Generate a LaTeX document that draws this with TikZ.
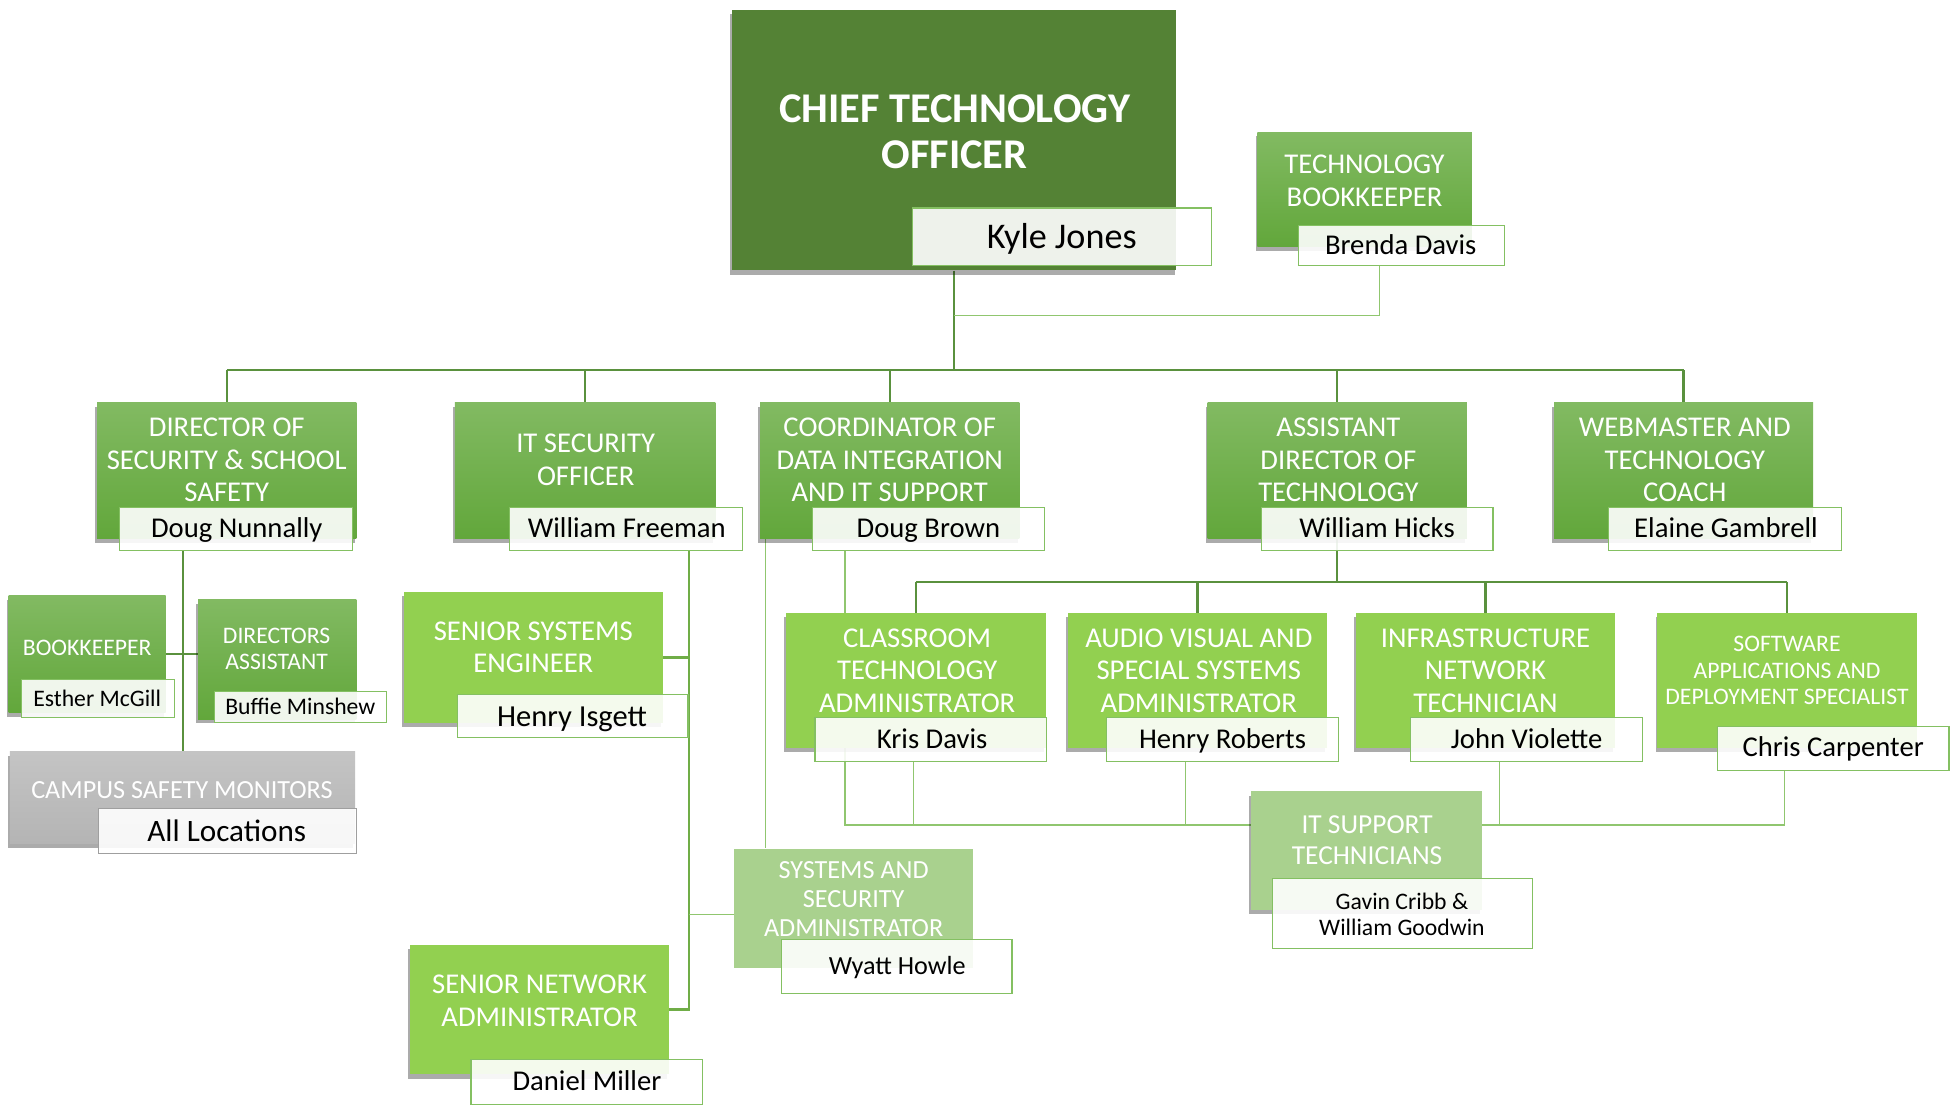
\documentclass[tikz,border=0pt]{standalone}
\usepackage{fontspec}
\setmainfont{Carlito}
\usetikzlibrary{shadows,fit}
\definecolor{dkg}{HTML}{548235}
\definecolor{gtop}{HTML}{82BA62}
\definecolor{gbot}{HTML}{62A73B}
\definecolor{brg}{HTML}{92D050}
\definecolor{plg}{HTML}{A9D18E}
\definecolor{nmline}{HTML}{84C062}
\definecolor{mainc}{HTML}{5A913E}
\definecolor{itc}{HTML}{70AD47}
\definecolor{thinc}{HTML}{90C66F}
\definecolor{gytop}{HTML}{C4C4C4}
\definecolor{gybot}{HTML}{B4B4B4}
\pgfdeclarelayer{bgl}
\pgfdeclarelayer{paper}
\pgfsetlayers{paper,bgl,main}
\tikzset{
  base/.style={rectangle, inner sep=0pt, draw=none},
  shd/.style={drop shadow={shadow xshift=-1.5pt, shadow yshift=-3.5pt, opacity=0.33, fill=black}},
  midg/.style={base, shd, top color=gtop, bottom color=gbot},
  darkbox/.style={base, shd, fill=dkg},
  brtbox/.style={base, shd, fill=brg},
  palebox/.style={base, fill=plg},
  palesh/.style={base, shd, fill=plg},
  greybox/.style={base, shd, top color=gytop, bottom color=gybot},
  nm/.style={base, draw=nmline, line width=1pt, fill=white, fill opacity=0.9},
  nmgrey/.style={nm, draw=gray!75},
  ttl/.style={text=white, align=center, inner sep=0pt, font=\fontsize{23}{26}\selectfont},
  ttls/.style={text=white, align=center, inner sep=0pt, font=\fontsize{19}{21}\selectfont},
  nmt/.style={text=black, inner sep=0pt, anchor=base, font=\fontsize{23}{26}\selectfont},
  nmts/.style={nmt, font=\fontsize{19}{21}\selectfont},
  mainln/.style={draw=mainc, line width=2pt},
  itln/.style={draw=itc, line width=2pt},
  thinln/.style={draw=thinc, line width=1pt},
}
\begin{document}
\begin{tikzpicture}[x=1pt,y=-1pt]
\useasboundingbox (0,0) rectangle (1568,886);
\begin{pgfonlayer}{paper}
\fill[white] (0,0) rectangle (1568,886);
\end{pgfonlayer}

% ---------- CTO ----------
\node[darkbox, fit={(587,8)(944,217)}] (cto) {};
\node[text=white, align=center, inner sep=0pt, font=\fontsize{34}{37}\selectfont\bfseries] (ctoT) at (766,105.5) {CHIEF TECHNOLOGY\\OFFICER};
\node[nm, fit={(732,167)(972,213)}] (kyle) {};
\node[nmt, font=\fontsize{29}{32}\selectfont] (kyleT) at (852,199.3) {Kyle Jones};

% ---------- Technology bookkeeper ----------
\node[midg, fit={(1009,106)(1181,198)}] (tbk) {};
\node[ttl] (tbkT) at (1095,145) {TECHNOLOGY\\BOOKKEEPER};
\node[nm, fit={(1042,181)(1207,213)}] (brenda) {};
\node[nmt] (brendaT) at (1124,204.4) {Brenda Davis};

% ---------- Level 2 ----------
\node[midg, fit={(78,323)(286,432)}] (dir) {};
\node[ttl] (dirT) at (182,369) {DIRECTOR OF\\SECURITY \& SCHOOL\\SAFETY};
\node[nm, fit={(96,407)(283,442)}] (nunnally) {};
\node[nmt] (nunnallyT) at (190,431.4) {Doug Nunnally};

\node[midg, fit={(365,323)(574,432)}] (itsec) {};
\node[ttl] (itsecT) at (470,369) {IT SECURITY\\OFFICER};
\node[nm, fit={(409,407)(596,442)}] (freeman) {};
\node[nmt] (freemanT) at (503,431.4) {William Freeman};

\node[midg, fit={(610,323)(818,432)}] (coord) {};
\node[ttl] (coordT) at (714,369) {COORDINATOR OF\\DATA INTEGRATION\\AND IT SUPPORT};
\node[nm, fit={(652,407)(838,442)}] (brown) {};
\node[nmt] (brownT) at (745,431.4) {Doug Brown};

\node[midg, fit={(969,323)(1177,432)}] (asst) {};
\node[ttl] (asstT) at (1074,369) {ASSISTANT\\DIRECTOR OF\\TECHNOLOGY};
\node[nm, fit={(1012,407)(1198,442)}] (hicks) {};
\node[nmt] (hicksT) at (1105,431.4) {William Hicks};

\node[midg, fit={(1247,323)(1455,432)}] (web) {};
\node[ttl] (webT) at (1352,369) {WEBMASTER AND\\TECHNOLOGY\\COACH};
\node[nm, fit={(1291,407)(1478,442)}] (gambrell) {};
\node[nmt] (gambrellT) at (1385,431.4) {Elaine Gambrell};

% ---------- Director branch ----------
\node[midg, fit={(7,478)(133,572)}] (bookk) {};
\node[ttls] (bookkT) at (70,520) {BOOKKEEPER};
\node[nm, fit={(17,545)(140,576)}] (mcgill) {};
\node[nmts] (mcgillT) at (78,567.1) {Esther McGill};

\node[midg, fit={(159,481)(286,577)}] (da) {};
\node[ttls] (daT) at (222,520.5) {DIRECTORS\\ASSISTANT};
\node[nm, fit={(172,555)(310,580)}] (buffie) {};
\node[nmts] (buffieT) at (241,573.1) {Buffie Minshew};

\node[greybox, fit={(8,603)(285,677)}] (campus) {};
\node[text=white, inner sep=0pt, font=\fontsize{21}{24}\selectfont] (campusT) at (146,634) {CAMPUS SAFETY MONITORS};
\node[nmgrey, fit={(79,649)(286,685)}] (alloc) {};
\node[nmt, font=\fontsize{25}{28}\selectfont] (allocT) at (182,675) {All Locations};

% ---------- IT security branch ----------
\node[brtbox, fit={(324,475)(532,580)}] (sse) {};
\node[ttl] (sseT) at (428,519.5) {SENIOR SYSTEMS\\ENGINEER};
\node[nm, fit={(367,557)(552,592)}] (isgett) {};
\node[nmt, font=\fontsize{24.5}{27}\selectfont] (isgettT) at (459,582.9) {Henry Isgett};

\node[brtbox, fit={(329,758)(537,862)}] (sna) {};
\node[ttl] (snaT) at (433,803) {SENIOR NETWORK\\ADMINISTRATOR};
\node[nm, fit={(378,850)(564,886)}] (miller) {};
\node[nmt] (millerT) at (471,875.4) {Daniel Miller};

\node[palebox, fit={(589,681)(781,777)}] (ssa) {};
\node[text=white, align=center, inner sep=0pt, font=\fontsize{21}{23.5}\selectfont] (ssaT) at (685,721.5) {SYSTEMS AND\\SECURITY\\ADMINISTRATOR};
\node[nm, fit={(627,754)(812,797)}] (howle) {};
\node[nmt, font=\fontsize{21}{24}\selectfont] (howleT) at (720,781.8) {Wyatt Howle};

% ---------- Level 3 ----------
\node[brtbox, fit={(631,492)(839,600)}] (class) {};
\node[ttl] (classT) at (736,538) {CLASSROOM\\TECHNOLOGY\\ADMINISTRATOR};
\node[nm, fit={(654,576)(840,611)}] (kris) {};
\node[nmt] (krisT) at (748,600.4) {Kris Davis};

\node[brtbox, fit={(857,492)(1065,600)}] (av) {};
\node[ttl] (avT) at (962,538) {AUDIO VISUAL AND\\SPECIAL SYSTEMS\\ADMINISTRATOR};
\node[nm, fit={(888,576)(1074,611)}] (roberts) {};
\node[nmt] (robertsT) at (981,600.4) {Henry Roberts};

\node[brtbox, fit={(1088,492)(1296,600)}] (infra) {};
\node[ttl] (infraT) at (1192,538) {INFRASTRUCTURE\\NETWORK\\TECHNICIAN};
\node[nm, fit={(1132,576)(1318,611)}] (violette) {};
\node[nmt] (violetteT) at (1225,600.4) {John Violette};

\node[brtbox, fit={(1330,492)(1538,600)}] (soft) {};
\node[ttls] (softT) at (1434,538) {SOFTWARE\\APPLICATIONS AND\\DEPLOYMENT SPECIALIST};
\node[nm, fit={(1378,583)(1564,618)}] (carpenter) {};
\node[nmt] (carpenterT) at (1471,607.4) {Chris Carpenter};

% ---------- IT support ----------
\node[palesh, fit={(1004,635)(1189,730)}] (its) {};
\node[text=white, align=center, inner sep=0pt, font=\fontsize{22}{25}\selectfont] (itsT) at (1097,674.5) {IT SUPPORT\\TECHNICIANS};
\node[nm, fit={(1021,705)(1230,761)}] (cribb) {};
\node[text=black, align=center, inner sep=0pt, font=\fontsize{19}{21}\selectfont] (cribbT) at (1125,733.5) {Gavin Cribb \&\\William Goodwin};

% ---------- connectors ----------
\begin{pgfonlayer}{bgl}
\coordinate (busY) at (0,297);
\draw[mainln] (cto.south) -- (cto.south |- busY);
\draw[mainln] (dir.north |- busY) -- (web.north |- busY);
\foreach \n in {dir,itsec,coord,asst,web} \draw[mainln] (\n.north |- busY) -- (\n.north);

\coordinate (bX) at (1107,253);
\draw[thinln] (brenda.south -| bX) -- (bX) -- (bX -| cto.south);

\coordinate (dX) at (147,0);
\draw[mainln] (nunnally.south -| dX) -- (campus.north -| dX);
\draw[mainln] (bookk.east) -- (bookk.east -| da.west);

\coordinate (iX) at (553,0);
\coordinate (ssaY) at (0,734);
\draw[itln] (freeman.south -| iX) -- (sna.east -| iX) -- (sna.east);
\draw[itln] (sse.east) -- (sse.east -| iX);
\draw[thinln] (ssa.west |- ssaY) -- (iX |- ssaY);

\coordinate (cX) at (614,0);
\draw[thinln] (coord.south -| cX) -- (ssa.north -| cX);

\coordinate (b2Y) at (0,467);
\draw[mainln] (asst.south) -- (asst.south |- b2Y);
\draw[mainln] (class.north |- b2Y) -- (soft.north |- b2Y);
\foreach \n in {class,av,infra,soft} \draw[mainln] (\n.north |- b2Y) -- (\n.north);

\coordinate (tY) at (0,662);
\coordinate (t1) at (678,0);
\coordinate (t2) at (733,0);
\coordinate (t3) at (951,0);
\coordinate (t4) at (1203,0);
\coordinate (t5) at (1432,0);
\draw[thinln] (brown.south -| t1) -- (t1 |- tY) -- (its.west |- tY);
\draw[thinln] (kris.south -| t2) -- (t2 |- tY);
\draw[thinln] (roberts.south -| t3) -- (t3 |- tY);
\draw[thinln] (violette.south -| t4) -- (t4 |- tY);
\draw[thinln] (carpenter.south -| t5) -- (t5 |- tY) -- (its.east |- tY);
\end{pgfonlayer}
\end{tikzpicture}
\end{document}
